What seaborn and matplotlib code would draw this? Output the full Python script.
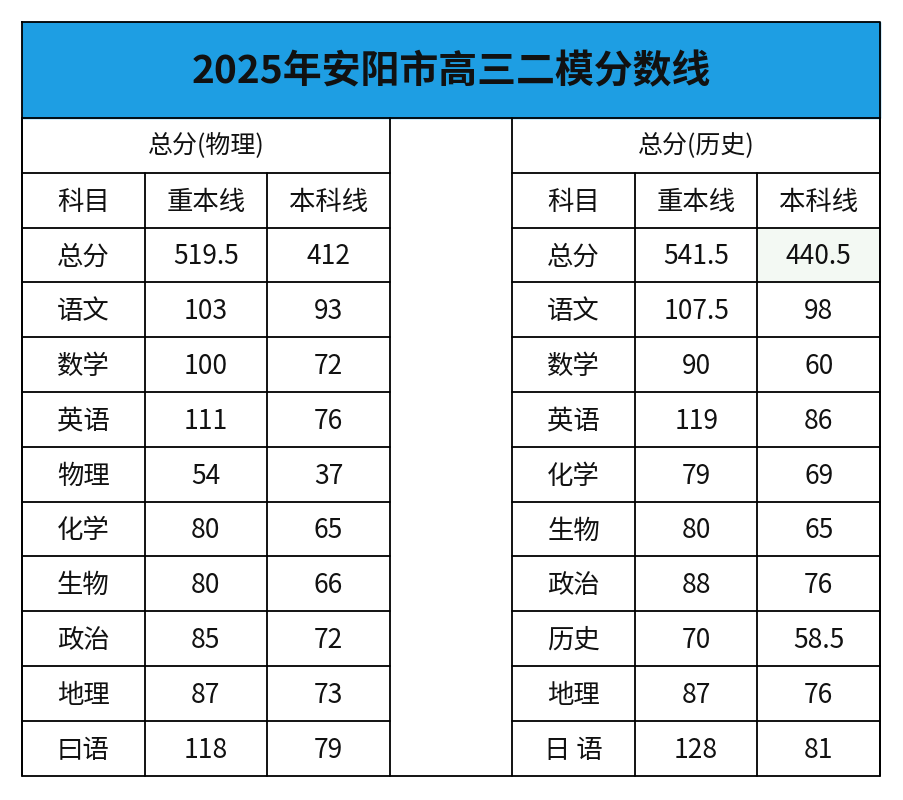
import matplotlib.pyplot as plt
import seaborn as sns

sns.set_theme(style="white")
plt.rcParams['font.family'] = ['Noto Sans CJK SC', 'DejaVu Sans']

title = "2025年安阳市高三二模分数线"
header_left = "总分(物理)"
header_right = "总分(历史)"
col_names = ["科目", "重本线", "本科线"]

phys_subjects = ["总分", "语文", "数学", "英语", "物理", "化学", "生物", "政治", "地理", "曰语"]
phys_key = ["519.5", "103", "100", "111", "54", "80", "80", "85", "87", "118"]
phys_base = ["412", "93", "72", "76", "37", "65", "66", "72", "73", "79"]

hist_subjects = ["总分", "语文", "数学", "英语", "化学", "生物", "政治", "历史", "地理", "日 语"]
hist_key = ["541.5", "107.5", "90", "119", "79", "80", "88", "70", "87", "128"]
hist_base = ["440.5", "98", "60", "86", "69", "65", "76", "58.5", "76", "81"]

W, H = 904, 800
fig = plt.figure(figsize=(W / 100, H / 100), dpi=100)
ax = fig.add_axes([0, 0, 1, 1])
ax.set_xlim(0, W)
ax.set_ylim(H, 0)
ax.axis("off")

x0, x1 = 22, 880
col_w = (x1 - x0) / 7
cols = [x0 + i * col_w for i in range(8)]
top, title_h, row_h = 22, 96, 54.8
rows = [top + title_h + i * row_h for i in range(13)]
bottom = rows[12]

ax.add_patch(plt.Rectangle((x0, top), x1 - x0, title_h, color="#1e9ee3", zorder=0))
ax.text((x0 + x1) / 2, top + title_h / 2 + 2, title, ha="center", va="center",
        fontsize=28, fontweight="bold", color="#111111")

# light highlight cell
ax.add_patch(plt.Rectangle((cols[6], rows[2]), col_w, row_h, color="#f3f9f3", zorder=0))

lw = 1.3
ax.plot([x0, x1, x1, x0, x0], [top, top, bottom, bottom, top], color="black", lw=lw)
ax.plot([x0, x1], [rows[0]] * 2, color="black", lw=lw)
for blk in (0, 4):
    bx0, bx1 = cols[blk], cols[blk + 3]
    for r in rows[1:12]:
        ax.plot([bx0, bx1], [r, r], color="black", lw=lw)
    ax.plot([bx0] * 2, [rows[0], bottom], color="black", lw=lw)
    ax.plot([bx1] * 2, [rows[0], bottom], color="black", lw=lw)
    for c in (blk + 1, blk + 2):
        ax.plot([cols[c]] * 2, [rows[1], bottom], color="black", lw=lw)

fs = 19
def cell(ci, ri, s):
    ax.text(cols[ci] + col_w / 2, rows[ri] + row_h / 2 + 2, s, ha="center", va="center",
            fontsize=fs, fontweight="medium", color="#111111")

for blk, head, subj, key, base in ((0, header_left, phys_subjects, phys_key, phys_base),
                                   (4, header_right, hist_subjects, hist_key, hist_base)):
    ax.text(cols[blk] + 1.5 * col_w, rows[0] + row_h / 2, head, ha="center", va="center",
            fontsize=18, fontweight="medium", color="#111111")
    for j, name in enumerate(col_names):
        cell(blk + j, 1, name)
    for i in range(len(subj)):
        cell(blk, i + 2, subj[i])
        cell(blk + 1, i + 2, key[i])
        cell(blk + 2, i + 2, base[i])

fig.savefig("out.png", dpi=100)
